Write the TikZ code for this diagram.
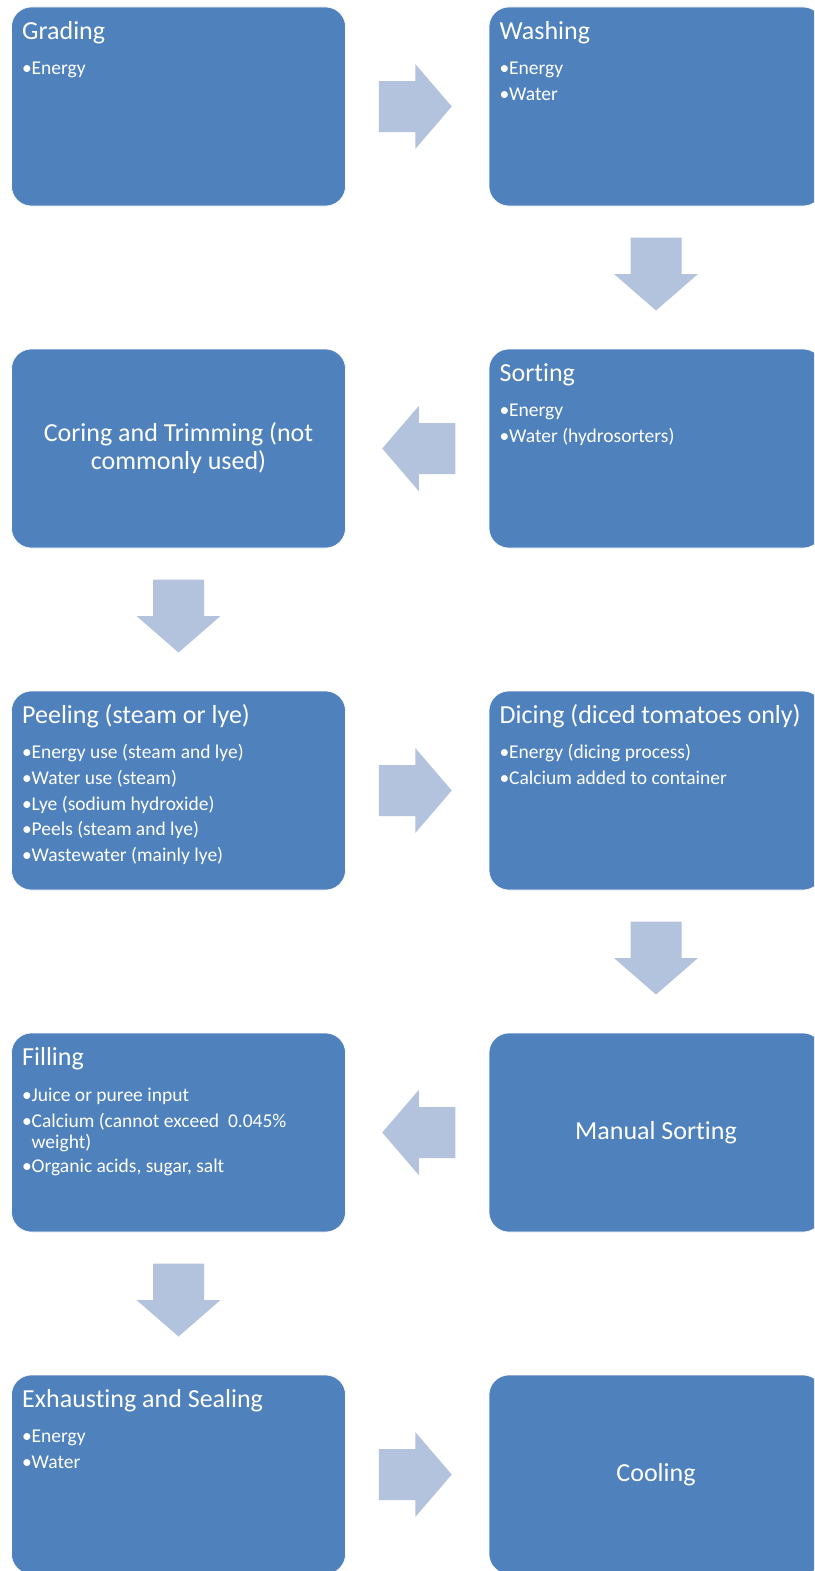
\documentclass[tikz,border=0pt]{standalone}
\usepackage{fontspec}
\setmainfont{Carlito}[Ligatures={NoCommon}]
\usetikzlibrary{calc}
\definecolor{boxblue}{HTML}{4F81BD}
\definecolor{arrowblue}{HTML}{B3C2DD}
\tikzset{
  stepbox/.style={rounded corners=20pt, fill=boxblue, draw=white, line width=0.6pt,
    minimum width=334pt, minimum height=199pt, inner sep=0pt, outer sep=0pt, anchor=north west},
  ttl/.style={inner sep=0pt, anchor=base west, text=white, font=\fontsize{26}{28}\selectfont},
  itm/.style={inner sep=0pt, anchor=base west, text=white, font=\fontsize{19.5}{22}\selectfont},
  ctr/.style={inner sep=0pt, text=white, align=center, font=\fontsize{26}{28}\selectfont},
  arrowfill/.style={fill=arrowblue, draw=none}
}
\newcommand\bul{\makebox[9.5pt][l]{•}}
\newcommand\ttl[3]{\node[ttl] (#1) at ([shift={(10.5,32.5)}]#2.north west) {#3};}
\newcommand\itm[4]{\node[itm] (#1) at ([shift={(10.5,#3)}]#2.north west) {#4};}
\newcommand\arrR[3]{%
  \coordinate (#1) at ($(#2.east)!0.5!(#3.west)+(-2,0)$);
  \fill[arrowfill] ([shift={(-36.5,-25.5)}]#1) -- ([shift={(0,-25.5)}]#1) -- ([shift={(0,-42.5)}]#1)
    -- ([shift={(36.5,0)}]#1) -- ([shift={(0,42.5)}]#1) -- ([shift={(0,25.5)}]#1)
    -- ([shift={(-36.5,25.5)}]#1) -- cycle;}
\newcommand\arrL[3]{%
  \coordinate (#1) at ($(#2.west)!0.5!(#3.east)+(1.5,0)$);
  \fill[arrowfill] ([shift={(36.5,-25.5)}]#1) -- ([shift={(0,-25.5)}]#1) -- ([shift={(0,-42.5)}]#1)
    -- ([shift={(-36.5,0)}]#1) -- ([shift={(0,42.5)}]#1) -- ([shift={(0,25.5)}]#1)
    -- ([shift={(36.5,25.5)}]#1) -- cycle;}
\newcommand\arrD[3]{%
  \coordinate (#1) at ($(#2.south)!0.5!(#3.north)+(0,-3.5)$);
  \fill[arrowfill] ([shift={(-25.5,-36.5)}]#1) -- ([shift={(25.5,-36.5)}]#1) -- ([shift={(25.5,0)}]#1)
    -- ([shift={(42,0)}]#1) -- ([shift={(0,36.5)}]#1) -- ([shift={(-42,0)}]#1)
    -- ([shift={(-25.5,0)}]#1) -- cycle;}
\begin{document}
\begin{tikzpicture}[x=1pt, y=-1pt]
\useasboundingbox (0,0) rectangle (814,1571);
\clip (0,0) rectangle (814,1571);
\fill[white] (0,0) rectangle (814,1571);
% boxes
\node[stepbox] (grading) at (11.5,7) {};
\node[stepbox] (washing) at (489,7) {};
\node[stepbox] (sorting) at (489,349) {};
\node[stepbox] (coring) at (11.5,349) {};
\node[stepbox] (peeling) at (11.5,691) {};
\node[stepbox] (dicing) at (489,691) {};
\node[stepbox] (manual) at (489,1033) {};
\node[stepbox] (filling) at (11.5,1033) {};
\node[stepbox] (exhaust) at (11.5,1375) {};
\node[stepbox] (cooling) at (489,1375) {};
% texts
\ttl{grading-t}{grading}{Grading}
\itm{grading-1}{grading}{67.5}{\bul Energy}
\ttl{washing-t}{washing}{Washing}
\itm{washing-1}{washing}{67.5}{\bul Energy}
\itm{washing-2}{washing}{93.5}{\bul Water}
\ttl{sorting-t}{sorting}{Sorting}
\itm{sorting-1}{sorting}{67.5}{\bul Energy}
\itm{sorting-2}{sorting}{93.5}{\bul Water (hydrosorters)}
\node[ctr] (coring-t) at (coring.center) {Coring and Trimming (not\\commonly used)};
\ttl{peeling-t}{peeling}{Peeling (steam or lye)}
\itm{peeling-1}{peeling}{67.5}{\bul Energy use (steam and lye)}
\itm{peeling-2}{peeling}{93.3}{\bul Water use (steam)}
\itm{peeling-3}{peeling}{119.1}{\bul Lye (sodium hydroxide)}
\itm{peeling-4}{peeling}{144.9}{\bul Peels (steam and lye)}
\itm{peeling-5}{peeling}{170.7}{\bul Wastewater (mainly lye)}
\ttl{dicing-t}{dicing}{Dicing (diced tomatoes only)}
\itm{dicing-1}{dicing}{67.5}{\bul Energy (dicing process)}
\itm{dicing-2}{dicing}{93.5}{\bul Calcium added to container}
\node[ctr] (manual-t) at (manual.center) {Manual Sorting};
\ttl{filling-t}{filling}{Filling}
\itm{filling-1}{filling}{68}{\bul Juice or puree input}
\itm{filling-2}{filling}{94}{\bul Calcium (cannot exceed\ \ 0.045\%}
\itm{filling-3}{filling}{115}{\hspace{9.5pt}weight)}
\itm{filling-4}{filling}{139}{\bul Organic acids, sugar, salt}
\ttl{exhaust-t}{exhaust}{Exhausting and Sealing}
\itm{exhaust-1}{exhaust}{67.5}{\bul Energy}
\itm{exhaust-2}{exhaust}{93.5}{\bul Water}
\node[ctr] (cooling-t) at (cooling.center) {Cooling};
% arrows
\arrR{a1}{grading}{washing}
\arrD{a2}{washing}{sorting}
\arrL{a3}{sorting}{coring}
\arrD{a4}{coring}{peeling}
\arrR{a5}{peeling}{dicing}
\arrD{a6}{dicing}{manual}
\arrL{a7}{manual}{filling}
\arrD{a8}{filling}{exhaust}
\arrR{a9}{exhaust}{cooling}
\end{tikzpicture}
\end{document}
